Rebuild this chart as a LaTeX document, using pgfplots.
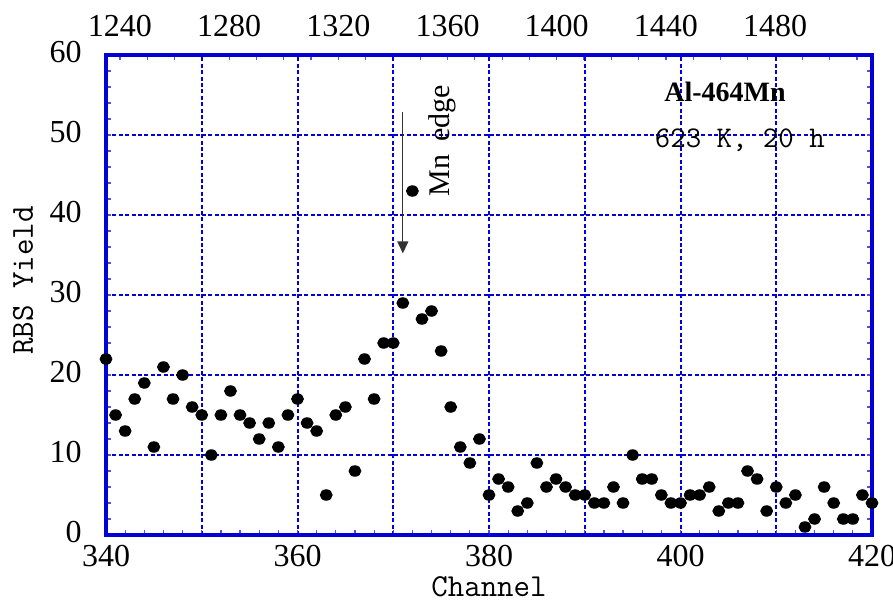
\documentclass[border=0pt]{standalone}
\usepackage{fontspec}
\setmainfont{Liberation Serif}
\usepackage{pgfplots}
\pgfplotsset{compat=1.18}
\usetikzlibrary{arrows.meta}

\definecolor{axblue}{RGB}{0,0,215}
\definecolor{tkblue}{RGB}{80,80,225}
\definecolor{arrowgray}{RGB}{50,50,50}

% RBS yield per channel, 340..420
\pgfplotstableread{
ch  y
340 22
341 15
342 13
343 17
344 19
345 11
346 21
347 17
348 20
349 16
350 15
351 10
352 15
353 18
354 15
355 14
356 12
357 14
358 11
359 15
360 17
361 14
362 13
363 5
364 15
365 16
366 8
367 22
368 17
369 24
370 24
371 29
372 43
373 27
374 28
375 23
376 16
377 11
378 9
379 12
380 5
381 7
382 6
383 3
384 4
385 9
386 6
387 7
388 6
389 5
390 5
391 4
392 4
393 6
394 4
395 10
396 7
397 7
398 5
399 4
400 4
401 5
402 5
403 6
404 3
405 4
406 4
407 8
408 7
409 3
410 6
411 4
412 5
413 1
414 2
415 6
416 4
417 2
418 2
419 5
420 4
}\rbsdata

\begin{document}
\begin{tikzpicture}
\useasboundingbox (-53pt,-33.5pt) rectangle (393.5pt,267.5pt);

\pgfplotsset{
  rbsframe/.style={
    scale only axis, width=383pt, height=240pt,
    at={(0,0)}, anchor=south west,
    tick align=inside,
    major tick length=2.5pt, minor tick length=2.5pt,
    tick style={tkblue, line width=0.6pt},
    tick label style={font=\fontsize{16}{16}\selectfont, inner sep=0pt},
  },
}

% top axis (energy scale)
\begin{axis}[
  rbsframe,
  xmin=1234.9, xmax=1515.5, ymin=0, ymax=60,
  axis x line*=top, hide y axis,
  axis line style={axblue, line width=1.75pt},
  xtick={1240,1280,1320,1360,1400,1440,1480},
  xticklabels={1240,1280,1320,1360,1400,1440,1480},
  minor xtick={1240,1250,...,1510},
  xticklabel style={anchor=south, yshift=9pt},
]
\end{axis}

% main axis
\begin{axis}[
  rbsframe,
  xmin=340, xmax=420, ymin=0, ymax=60,
  clip=false,
  axis line style={axblue, line width=1.75pt},
  xtick pos=lower, ytick pos=both,
  xtick={340,350,...,420},
  xticklabels={340,,360,,380,,400,,420},
  minor xtick={340,342,...,420},
  ytick={0,10,...,60},
  yticklabels={0,10,20,30,40,50,60},
  minor ytick={0,2,...,60},
  xticklabel style={anchor=north, yshift=-5pt},
  yticklabel style={anchor=east, xshift=-12pt, yshift=1.5pt},
  grid=major,
  major grid style={axblue, line width=1pt, dash pattern=on 2pt off 1.2pt},
  xlabel={\ttfamily Channel},
  ylabel={\ttfamily RBS Yield},
  label style={font=\fontsize{16}{16}\selectfont},
  xlabel style={at={(axis description cs:0.5,-0.128)}, anchor=base},
  ylabel style={at={(axis description cs:-0.0953,0.53)}, anchor=base, rotate=0},
]
\addplot[only marks, mark=*, mark size=2.65pt, mark options={black, xscale=1.13}]
  table[x=ch, y=y] {\rbsdata};

\draw[arrowgray, line width=0.6pt, -{Triangle[width=5.5pt,length=6pt]}]
  (axis cs:371.0,52.9) -- (axis cs:371.0,35.2);
\node[rotate=90, font=\fontsize{15}{15}\selectfont] at (axis cs:375.1,49.3) {Mn\hspace{0.45em}edge};
\node[font=\fontsize{14}{14}\selectfont\bfseries] at (axis cs:404.65,55.4) {Al-464Mn};
\node[font=\fontsize{15}{15}\selectfont\ttfamily] at (axis cs:406.2,49.4) {623 K, 20 h};
\end{axis}
\end{tikzpicture}
\end{document}
